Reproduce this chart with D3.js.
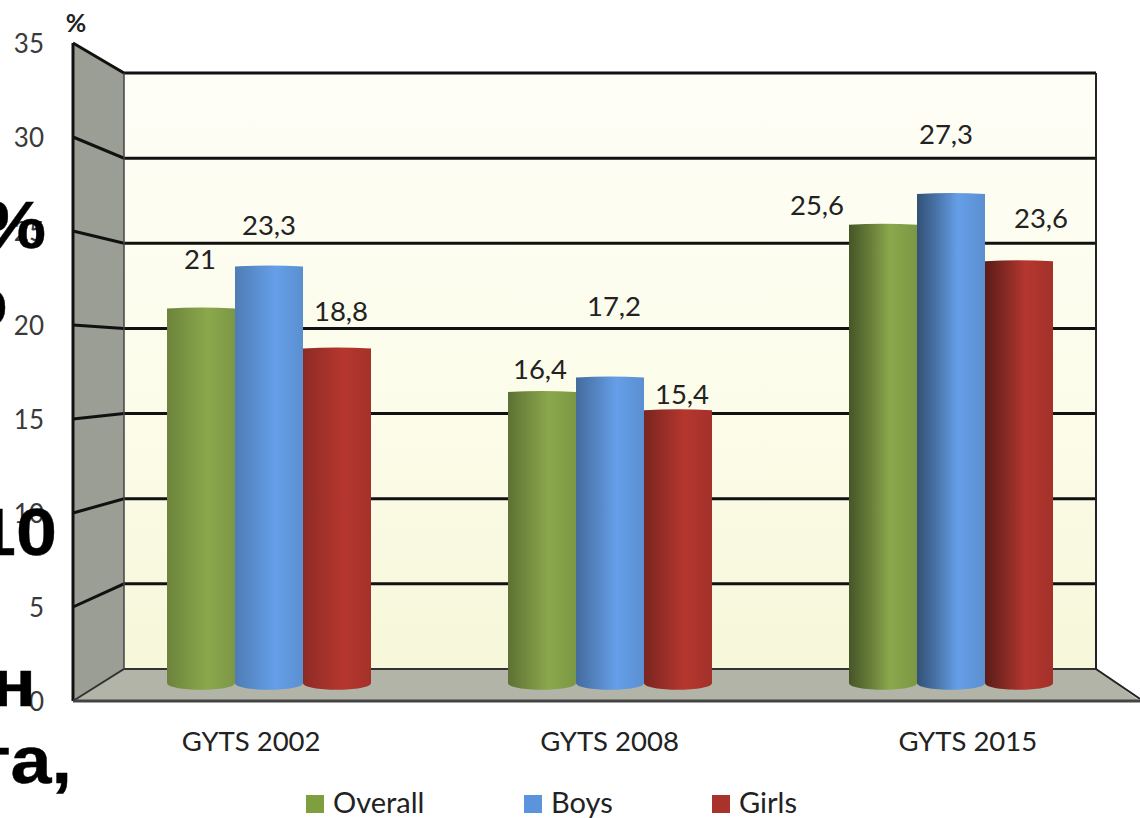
<!DOCTYPE html>
<html>
<head>
<meta charset="utf-8">
<script src="https://cdn.jsdelivr.net/npm/d3@7"></script>
<style>
    html, body { margin: 0; padding: 0; background: #fff; overflow: hidden; }
    svg { display: block; }
    text { font-family: Lato, "Open Sans", sans-serif; }
    .overlay { font-family: "Liberation Sans", Arial, sans-serif; font-weight: bold; font-size: 67px; fill: #000; stroke: #000; stroke-width: 0.4px; }
</style>
</head>
<body>
<div id="chart"></div>
<script>
var categories = ["GYTS 2002", "GYTS 2008", "GYTS 2015"];
var seriesNames = ["Overall", "Boys", "Girls"];
var overall = [21, 16.4, 25.6];
var boys = [23.3, 17.2, 27.3];
var girls = [18.8, 15.4, 23.6];
var yTicks = [0, 5, 10, 15, 20, 25, 30, 35];
var seriesColors = ["#8aa84c", "#659fe8", "#b5372f"];
var legendColors = ["#7f9f3f", "#5b93dc", "#a9322b"];
// text of the slide behind the chart, cut off at the left edge
var overlayTexts = ["%", "р", "10", "н", "та,"];

var values = [overall, boys, girls];

var width = 1140, height = 818;
var wallBackLeft = 124, wallBackRight = 1096, wallFrontLeft = 73, floorFrontRight = 1140;

// three y scales: front edge of the side wall, back wall, and the bars standing on the floor
var yFront = d3.scaleLinear().domain([0, 35]).range([701, 43]);
var yBack = d3.scaleLinear().domain([0, 35]).range([669, 73]);
var yBar = d3.scaleLinear().domain([0, 35]).range([690, 54]);

var xGroup = d3.scaleBand().domain(categories).range([98.5, 1121.5]);
var xBar = d3.scaleBand().domain(seriesNames).range([68.5, 272.5]);
var xLabel = d3.scaleBand().domain(categories).range([72, 1147]);

var svg = d3.select("#chart").append("svg")
    .attr("width", width)
    .attr("height", height);

var defs = svg.append("defs");

var wallGrad = defs.append("linearGradient")
    .attr("id", "wallGrad")
    .attr("x1", 0).attr("y1", 0).attr("x2", 0).attr("y2", 1);
wallGrad.append("stop").attr("offset", "0%").attr("stop-color", "#fefef7");
wallGrad.append("stop").attr("offset", "55%").attr("stop-color", "#fcfcea");
wallGrad.append("stop").attr("offset", "100%").attr("stop-color", "#f7f7da");

// the cylinders get darker on the left the further right they stand
var shade = [0.7, 1.1, 1.9];
categories.forEach(function (c, i) {
    seriesNames.forEach(function (s, j) {
        var g = defs.append("linearGradient")
            .attr("id", "bar" + i + "_" + j)
            .attr("x1", 0).attr("y1", 0).attr("x2", 1).attr("y2", 0);
        g.append("stop").attr("offset", "0%").attr("stop-color", d3.color(seriesColors[j]).darker(shade[i]));
        g.append("stop").attr("offset", "30%").attr("stop-color", d3.color(seriesColors[j]).darker(shade[i] * 0.45));
        g.append("stop").attr("offset", "60%").attr("stop-color", seriesColors[j]);
        g.append("stop").attr("offset", "100%").attr("stop-color", d3.color(seriesColors[j]).darker(0.3));
    });
});

// walls and floor
svg.append("rect")
    .attr("x", wallBackLeft)
    .attr("y", yBack(35))
    .attr("width", wallBackRight - wallBackLeft)
    .attr("height", yBack(0) - yBack(35))
    .attr("fill", "url(#wallGrad)");

svg.append("polygon")
    .attr("points", [[wallFrontLeft, yFront(35)], [wallBackLeft, yBack(35)], [wallBackLeft, yBack(0)], [wallFrontLeft, yFront(0)]].join(" "))
    .attr("fill", "#9b9e94");

svg.append("polygon")
    .attr("points", [[wallBackLeft, yBack(0)], [wallBackRight, yBack(0)], [floorFrontRight, yFront(0)], [wallFrontLeft, yFront(0)]].join(" "))
    .attr("fill", "#b1b4a6");

// gridlines run along the side wall and then over the back wall
var grid = svg.append("g").attr("class", "grid");
yTicks.forEach(function (t) {
    grid.append("path")
        .attr("d", d3.line()([[wallFrontLeft, yFront(t)], [wallBackLeft, yBack(t)], [wallBackRight, yBack(t)]]))
        .attr("fill", "none")
        .attr("stroke", t === 0 ? "#333" : "#111")
        .attr("stroke-width", t === 0 ? 2 : 3);
});

svg.append("line")
    .attr("x1", wallBackLeft).attr("x2", wallBackLeft)
    .attr("y1", yBack(35)).attr("y2", yBack(0))
    .attr("stroke", "#444").attr("stroke-width", 1.5);
svg.append("line")
    .attr("x1", wallBackRight).attr("x2", wallBackRight)
    .attr("y1", yBack(35)).attr("y2", yBack(0))
    .attr("stroke", "#222").attr("stroke-width", 2);
svg.append("line")
    .attr("x1", wallBackRight).attr("x2", floorFrontRight)
    .attr("y1", yBack(0)).attr("y2", yFront(0) - 2)
    .attr("stroke", "#222").attr("stroke-width", 2);
svg.append("line")
    .attr("x1", wallFrontLeft).attr("x2", wallFrontLeft)
    .attr("y1", yFront(35)).attr("y2", yFront(0))
    .attr("stroke", "#111").attr("stroke-width", 3);
svg.append("line")
    .attr("x1", wallFrontLeft).attr("x2", floorFrontRight)
    .attr("y1", yFront(0)).attr("y2", yFront(0))
    .attr("stroke", "#444").attr("stroke-width", 3);

// bars
function cylinder(x0, x1, top, bottom) {
    var xm = (x0 + x1) / 2;
    return "M" + x0 + "," + top +
        "Q" + xm + "," + (top - 2) + " " + x1 + "," + top +
        "L" + x1 + "," + (bottom - 7) +
        "C" + x1 + "," + (bottom + 2) + " " + x0 + "," + (bottom + 2) + " " + x0 + "," + (bottom - 7) + "Z";
}

// data labels sit in odd places in the original, so each gets its own nudge
var labelNudge = [
    [[-1, -49], [0, -41], [4, -37]],
    [[-2, -23], [4, -71], [4, -16]],
    [[-66, -19], [-5, -60], [22, -43]]
];

var barOrder = [0, 2, 1];
categories.forEach(function (c, i) {
    barOrder.forEach(function (j) {
        var s = seriesNames[j];
        var x0 = xGroup(c) + xBar(s);
        svg.append("path")
            .attr("d", cylinder(x0, x0 + xBar.bandwidth(), yBar(values[j][i]), yBar(0)))
            .attr("fill", "url(#bar" + i + "_" + j + ")");
    });
});

categories.forEach(function (c, i) {
    seriesNames.forEach(function (s, j) {
        var cx = xGroup(c) + xBar(s) + xBar.bandwidth() / 2;
        svg.append("text")
            .attr("x", cx + labelNudge[i][j][0])
            .attr("y", yBar(values[j][i]) + labelNudge[i][j][1])
            .attr("dy", "0.35em")
            .attr("text-anchor", "middle")
            .attr("font-size", 27.5)
            .attr("fill", "#222")
            .text(String(values[j][i]).replace(".", ","));
    });
});

// axes
var yAxis = svg.append("g")
    .attr("transform", "translate(" + wallFrontLeft + ",1.5)")
    .call(d3.axisLeft(yFront).tickValues(yTicks).tickSize(0).tickPadding(29));
yAxis.select(".domain").remove();
yAxis.selectAll("text")
    .attr("font-size", 26)
    .attr("font-family", "Lato")
    .attr("fill", "#3a3a3a");

var xAxis = svg.append("g")
    .attr("transform", "translate(0," + yFront(0) + ")")
    .call(d3.axisBottom(xLabel).tickSize(0).tickPadding(30));
xAxis.select(".domain").remove();
xAxis.selectAll("text")
    .attr("font-size", 27.5)
    .attr("font-family", "Lato")
    .attr("fill", "#222");

svg.append("text")
    .attr("x", 76)
    .attr("y", 32)
    .attr("text-anchor", "middle")
    .attr("font-size", 25)
    .attr("font-weight", "bold")
    .attr("fill", "#222")
    .text("%");

// legend
var legendX = d3.scaleOrdinal().domain(seriesNames).range([306, 524, 712]);
seriesNames.forEach(function (s, j) {
    svg.append("rect")
        .attr("x", legendX(s))
        .attr("y", 795)
        .attr("width", 18)
        .attr("height", 18)
        .attr("fill", legendColors[j]);
    svg.append("text")
        .attr("x", legendX(s) + 27)
        .attr("y", 803)
        .attr("dy", "0.35em")
        .attr("font-size", 29)
        .attr("fill", "#222")
        .text(s);
});

// slide text on top of the chart, a bit wider than the font draws it
var overlayRight = [46, 8, 57, 36, 72];
var overlayBase = [248, 325, 555, 706, 783];
svg.selectAll(".overlay")
    .data(overlayTexts)
    .enter().append("text")
    .attr("class", "overlay")
    .attr("text-anchor", "end")
    .attr("transform", function (d, i) { return "translate(" + overlayRight[i] + "," + overlayBase[i] + ") scale(1.1,1)"; })
    .text(function (d) { return d; });
</script>
</body>
</html>
